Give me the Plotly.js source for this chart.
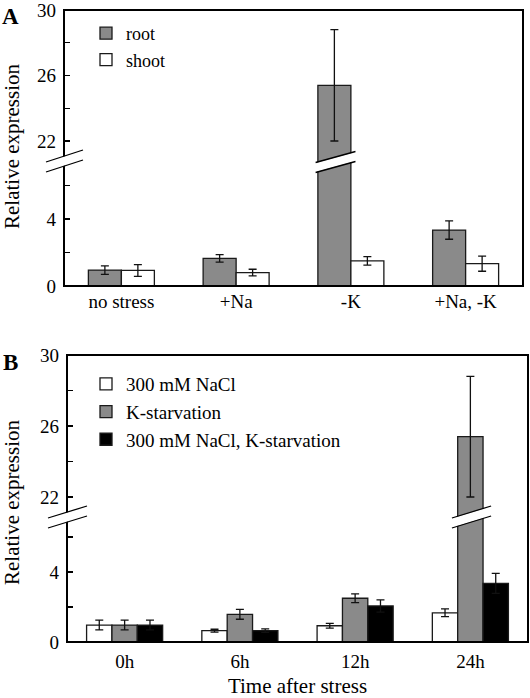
<!DOCTYPE html>
<html>
<head>
<meta charset="utf-8">
<script src="https://cdn.plot.ly/plotly-3.0.1.min.js"></script>
<style>html,body{margin:0;padding:0;background:#fff}#chart{width:530px;height:698px}</style>
</head>
<body>
<div id="chart"></div>
<script>
// ---------- data ----------
const catsA = ['no stress', '+Na', '-K', '+Na, -K'];
const rootA = [0.95, 1.65, 25.4, 3.34];
const rootErrA = [0.25, 0.22, 3.4, 0.55];
const shootA = [0.93, 0.8, 1.5, 1.33];
const shootErrA = [0.35, 0.2, 0.25, 0.45];

const catsB = ['0h', '6h', '12h', '24h'];
const naclB = [0.97, 0.65, 0.93, 1.67];
const naclErrB = [0.28, 0.08, 0.14, 0.22];
const kstarvB = [0.97, 1.58, 2.5, 25.4];
const kstarvErrB = [0.28, 0.28, 0.25, 3.4];
const bothB = [0.97, 0.65, 2.06, 3.35];
const bothErrB = [0.28, 0.1, 0.35, 0.57];

const ticksLow = [0, 2, 4, 6];
const ticksLowText = ['0', '', '4', ''];
const ticksHigh = [22, 24, 26, 28, 30];
const ticksHighText = ['22', '', '26', '', '30'];

// ---------- geometry ----------
const W = 530, H = 698;
const px = x => x / W;
const py = y => 1 - y / H;
const FONT = 'Liberation Serif, "Times New Roman", Times, serif';

const A = {l: 64, r: 523, t: 10, b: 286, brk: 161, sLow: 16.75, sHigh: 16.375};
const B = {l: 67, r: 528, t: 355, b: 642, brk: 517, sLow: 17.5, sHigh: 17.75};
A.lowTop = (A.b - A.brk) / A.sLow; A.highBot = 30 - (A.brk - A.t) / A.sHigh;
B.lowTop = (B.b - B.brk) / B.sLow; B.highBot = 30 - (B.brk - B.t) / B.sHigh;

const gapA = 0.425, gapB = 0.34;
const wA = (1 - gapA) / 2;
const wB = (1 - gapB) / 3;

const GRAY = '#8a8a8a', EDGE = '#1a1a1a';

function lowPart(v, e, top) { return {y: v.slice(), e: e.map((x, i) => v[i] <= top ? x : null)}; }
function highPart(v, e, bot) { return {y: v.map(x => x >= bot ? x : null), e: e.map((x, i) => v[i] >= bot ? x : null)}; }

function bar(name, cats, part, color, xa, ya, showleg, leg, w, slot, n) {
  return {
    type: 'bar', name: name, x: cats, y: part.y, xaxis: xa, yaxis: ya,
    width: w, offset: -n * w / 2 + slot * w,
    marker: {color: color, line: {color: EDGE, width: 1.3}},
    error_y: {type: 'data', array: part.e, visible: true, color: '#111', thickness: 1.3, width: 4},
    showlegend: showleg, legend: leg
  };
}

const traces = [
  bar('root', catsA, lowPart(rootA, rootErrA, A.lowTop), GRAY, 'x', 'y', true, 'legend', wA, 0, 2),
  bar('shoot', catsA, lowPart(shootA, shootErrA, A.lowTop), '#ffffff', 'x', 'y', true, 'legend', wA, 1, 2),
  bar('root', catsA, highPart(rootA, rootErrA, A.highBot), GRAY, 'x', 'y2', false, 'legend', wA, 0, 2),
  bar('shoot', catsA, highPart(shootA, shootErrA, A.highBot), '#ffffff', 'x', 'y2', false, 'legend', wA, 1, 2),

  bar('300 mM NaCl', catsB, lowPart(naclB, naclErrB, B.lowTop), '#ffffff', 'x2', 'y3', true, 'legend2', wB, 0, 3),
  bar('K-starvation', catsB, lowPart(kstarvB, kstarvErrB, B.lowTop), GRAY, 'x2', 'y3', true, 'legend2', wB, 1, 3),
  bar('300 mM NaCl, K-starvation', catsB, lowPart(bothB, bothErrB, B.lowTop), '#000000', 'x2', 'y3', true, 'legend2', wB, 2, 3),
  bar('300 mM NaCl', catsB, highPart(naclB, naclErrB, B.highBot), '#ffffff', 'x2', 'y4', false, 'legend2', wB, 0, 3),
  bar('K-starvation', catsB, highPart(kstarvB, kstarvErrB, B.highBot), GRAY, 'x2', 'y4', false, 'legend2', wB, 1, 3),
  bar('300 mM NaCl, K-starvation', catsB, highPart(bothB, bothErrB, B.highBot), '#000000', 'x2', 'y4', false, 'legend2', wB, 2, 3)
];

function yax(P, low, anchor) {
  return {
    domain: low ? [py(P.b), py(P.brk)] : [py(P.brk), py(P.t)],
    range: low ? [0, P.lowTop] : [P.highBot, 30],
    tickvals: low ? ticksLow : ticksHigh,
    ticktext: low ? ticksLowText : ticksHighText,
    ticks: 'inside', ticklen: 6, tickwidth: 1.3, tickcolor: '#000',
    ticklabelstandoff: 7, ticklabeloverflow: 'allow',
    showgrid: false, zeroline: false, showline: false,
    anchor: anchor, fixedrange: true,
    tickfont: {family: FONT, size: 19, color: '#000'}
  };
}

// break marks: a thick white stroke between two thin black lines
function breakMarks(xref, x0, x1, yc, halfRise) {
  const gap = 5;
  const out = [];
  out.push({type: 'line', xref: xref, yref: 'paper', x0: x0, x1: x1,
    y0: py(yc + halfRise), y1: py(yc - halfRise), line: {color: '#fff', width: 9}});
  [-gap, gap].forEach(d => out.push({type: 'line', xref: xref, yref: 'paper', x0: x0, x1: x1,
    y0: py(yc + halfRise + d), y1: py(yc - halfRise + d), line: {color: '#000', width: 1.3}}));
  return out;
}

const rootKCenter = catsA.indexOf('-K') - wA / 2;
const k24Center = catsB.indexOf('24h');

const shapes = [
  {type: 'rect', xref: 'paper', yref: 'paper', x0: px(A.l), x1: px(A.r), y0: py(A.b), y1: py(A.t), line: {color: '#000', width: 2}},
  {type: 'rect', xref: 'paper', yref: 'paper', x0: px(B.l), x1: px(B.r), y0: py(B.b), y1: py(B.t), line: {color: '#000', width: 2}}
]
  .concat(breakMarks('paper', px(A.l - 18), px(A.l + 19), A.brk, 6))
  .concat(breakMarks('x', rootKCenter - wA / 2 - 0.02, rootKCenter + wA / 2 + 0.04, A.brk + 1, 5.5))
  .concat(breakMarks('paper', px(B.l - 19), px(B.l + 20), B.brk, 6))
  .concat(breakMarks('x2', k24Center - wB / 2 - 0.05, k24Center + wB / 2 + 0.07, B.brk, 6));

const layout = {
  width: W, height: H,
  margin: {l: 0, r: 0, t: 0, b: 0},
  paper_bgcolor: '#fff', plot_bgcolor: 'rgba(0,0,0,0)',
  font: {family: FONT, color: '#000', size: 19},
  barmode: 'group',
  showlegend: true,
  xaxis: {domain: [px(A.l), px(A.r)], anchor: 'y', type: 'category', ticks: '', showline: false,
    showgrid: false, fixedrange: true, ticklabelstandoff: 2, tickfont: {family: FONT, size: 19}},
  xaxis2: {domain: [px(B.l), px(B.r)], anchor: 'y3', type: 'category', ticks: '', showline: false,
    showgrid: false, fixedrange: true, ticklabelstandoff: 6, tickfont: {family: FONT, size: 19},
    title: {text: 'Time after stress', font: {family: FONT, size: 21}, standoff: 7}},
  yaxis: yax(A, true, 'x'),
  yaxis2: yax(A, false, 'x'),
  yaxis3: yax(B, true, 'x2'),
  yaxis4: yax(B, false, 'x2'),
  bargap: gapA, bargroupgap: 0,
  legend: {x: px(86), y: py(15), xanchor: 'left', yanchor: 'top', bgcolor: 'rgba(0,0,0,0)',
    font: {family: FONT, size: 18}, tracegroupgap: 0, traceorder: 'normal'},
  legend2: {x: px(86), y: py(365), xanchor: 'left', yanchor: 'top', bgcolor: 'rgba(0,0,0,0)',
    font: {family: FONT, size: 19}, tracegroupgap: 0, traceorder: 'normal'},
  shapes: shapes,
  annotations: [
    {text: '<b>A</b>', xref: 'paper', yref: 'paper', x: px(10), y: py(17), showarrow: false,
      font: {family: FONT, size: 23}, xanchor: 'center', yanchor: 'middle'},
    {text: '<b>B</b>', xref: 'paper', yref: 'paper', x: px(10), y: py(362), showarrow: false,
      font: {family: FONT, size: 23}, xanchor: 'center', yanchor: 'middle'},
    {text: 'Relative expression', xref: 'paper', yref: 'paper', x: px(12), y: py(146), textangle: -90,
      showarrow: false, font: {family: FONT, size: 21}, xanchor: 'center', yanchor: 'middle'},
    {text: 'Relative expression', xref: 'paper', yref: 'paper', x: px(12), y: py(502), textangle: -90,
      showarrow: false, font: {family: FONT, size: 21}, xanchor: 'center', yanchor: 'middle'}
  ]
};

Plotly.newPlot('chart', traces, layout, {displayModeBar: false, staticPlot: true});
</script>
</body>
</html>
